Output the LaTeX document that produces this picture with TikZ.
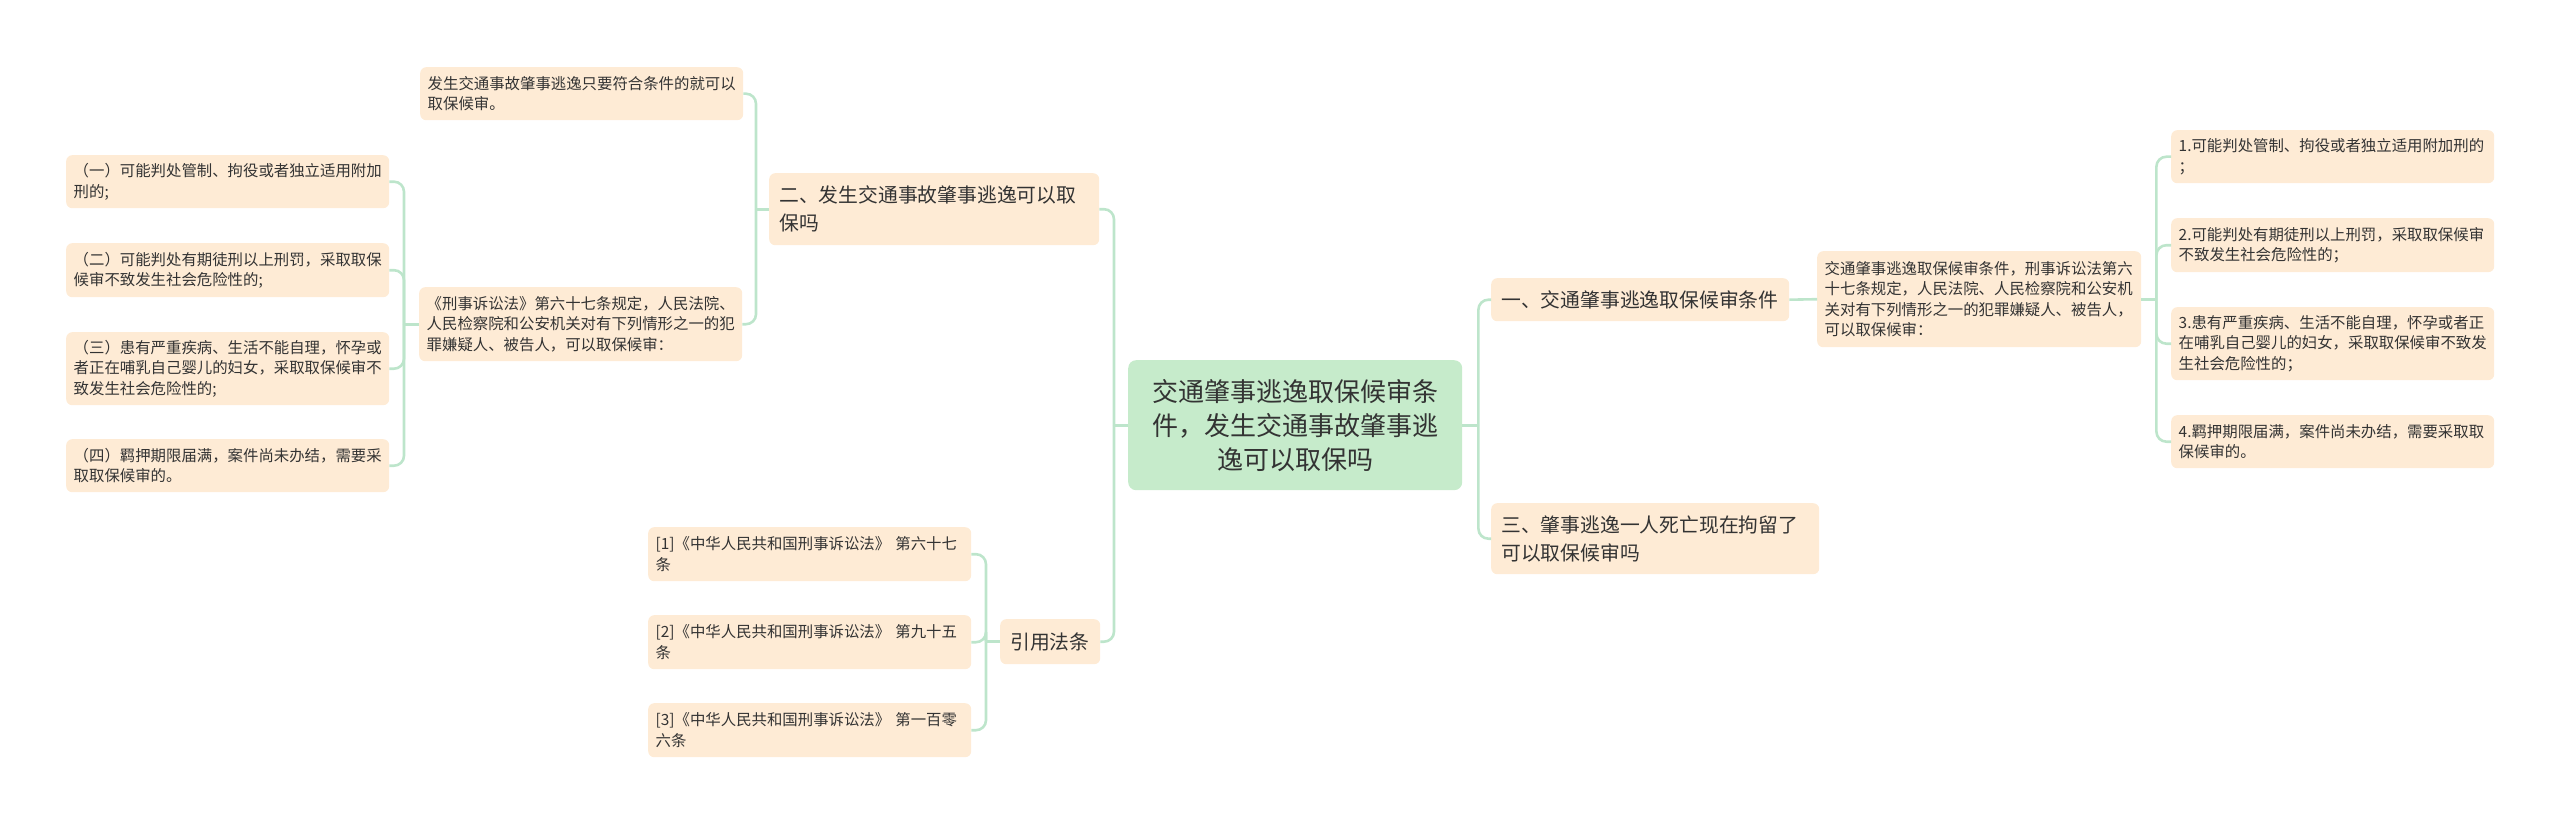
\documentclass[tikz,border=0pt]{standalone}
\usepackage{fontspec}
\setmainfont{Noto Sans CJK SC}
\usetikzlibrary{calc}
\definecolor{boxfill}{HTML}{FEEBD5}
\definecolor{rootfill}{HTML}{C6EBCB}
\definecolor{linecol}{HTML}{BDE5CB}
\definecolor{txt}{HTML}{333333}
\tikzset{
  base/.style={anchor=north west, rounded corners=6pt, fill=boxfill, text=txt, align=left, inner ysep=0pt},
  small/.style={base, font=\fontsize{15.4pt}{20.5pt}\selectfont, inner xsep=7.5pt, text width=308pt},
  lvl/.style={base, font=\fontsize{19.8pt}{28pt}\selectfont, inner xsep=10pt},
  rootbox/.style={anchor=north west, rounded corners=8pt, fill=rootfill, text=txt, align=center, inner sep=0pt, font=\fontsize{26pt}{34pt}\selectfont},
  conn/.style={draw=linecol, line width=2.6pt, rounded corners=10pt}
}
\begin{document}
\begin{tikzpicture}[x=1pt, y=-1pt]
\useasboundingbox (0,0) rectangle (2560,824);
% root
\node[rootbox, minimum width=334pt, minimum height=130pt, text width=310pt] (C) at (1128,360) {交通肇事逃逸取保候审条\\件，发生交通事故肇事逃\\逸可以取保吗};
% left side
\node[lvl, text width=310pt, minimum height=72pt] (N2) at (769,173) {二、发生交通事故肇事逃逸可以取\\保吗};
\node[small, minimum height=53pt] (A) at (420,67) {发生交通事故肇事逃逸只要符合条件的就可以\\取保候审。};
\node[small, minimum height=74pt] (B) at (419,287) {《刑事诉讼法》第六十七条规定，人民法院、\\人民检察院和公安机关对有下列情形之一的犯\\罪嫌疑人、被告人，可以取保候审：};
\node[small, minimum height=53pt] (L1) at (66,155) {（一）可能判处管制、拘役或者独立适用附加\\刑的;};
\node[small, minimum height=54pt] (L2) at (66,243) {（二）可能判处有期徒刑以上刑罚，采取取保\\候审不致发生社会危险性的;};
\node[small, minimum height=73pt] (L3) at (66,332) {（三）患有严重疾病、生活不能自理，怀孕或\\者正在哺乳自己婴儿的妇女，采取取保候审不\\致发生社会危险性的;};
\node[small, minimum height=53pt] (L4) at (66,439) {（四）羁押期限届满，案件尚未办结，需要采\\取取保候审的。};
\node[lvl, text width=80pt, minimum height=45pt] (R) at (1000,619) {引用法条};
\node[small, minimum height=54pt] (F1) at (648,527) {[1]《中华人民共和国刑事诉讼法》 第六十七\\条};
\node[small, minimum height=54pt] (F2) at (648,615) {[2]《中华人民共和国刑事诉讼法》 第九十五\\条};
\node[small, minimum height=54pt] (F3) at (648,703) {[3]《中华人民共和国刑事诉讼法》 第一百零\\六条};
% right side
\node[lvl, text width=278pt, minimum height=43pt] (N1) at (1491,278) {一、交通肇事逃逸取保候审条件};
\node[lvl, text width=308pt, minimum height=71pt] (N3) at (1491,503) {三、肇事逃逸一人死亡现在拘留了\\可以取保候审吗};
\node[small, minimum height=96pt, text width=309pt] (K) at (1817,251) {交通肇事逃逸取保候审条件，刑事诉讼法第六\\十七条规定，人民法院、人民检察院和公安机\\关对有下列情形之一的犯罪嫌疑人、被告人，\\可以取保候审：};
\node[small, minimum height=53pt] (P1) at (2171,130) {1.可能判处管制、拘役或者独立适用附加刑的\\；};
\node[small, minimum height=54pt] (P2) at (2171,218) {2.可能判处有期徒刑以上刑罚，采取取保候审\\不致发生社会危险性的；};
\node[small, minimum height=73pt] (P3) at (2171,307) {3.患有严重疾病、生活不能自理，怀孕或者正\\在哺乳自己婴儿的妇女，采取取保候审不致发\\生社会危险性的；};
\node[small, minimum height=53pt] (P4) at (2171,415) {4.羁押期限届满，案件尚未办结，需要采取取\\保候审的。};
% junctions
\coordinate (jC) at ($(C.west)+(-14,0)$);
\coordinate (jD) at ($(C.east)+(16,0)$);
\coordinate (j2) at ($(N2.west)+(-13,0)$);
\coordinate (jB) at ($(B.west)+(-15,0)$);
\coordinate (jR) at ($(R.west)+(-14,0)$);
\coordinate (jK) at ($(K.east)+(15,0)$);
% connectors
\draw[conn] (C.west) -- (jC);
\draw[conn] (jC) |- (N2.east);
\draw[conn] (jC) |- (R.east);
\draw[conn] (C.east) -- (jD);
\draw[conn] (jD) |- (N1.west);
\draw[conn] (jD) |- (N3.west);
\draw[conn] (N2.west) -- (j2);
\draw[conn] (j2) |- (A.east);
\draw[conn] (j2) |- (B.east);
\draw[conn] (B.west) -- (jB);
\draw[conn] (jB) |- (L1.east);
\draw[conn] (jB) |- (L2.east);
\draw[conn] (jB) |- (L3.east);
\draw[conn] (jB) |- (L4.east);
\draw[conn] (R.west) -- (jR);
\draw[conn] (jR) |- (F1.east);
\draw[conn] (jR) |- (F2.east);
\draw[conn] (jR) |- (F3.east);
\draw[conn] (N1.east) -- (K.west);
\draw[conn] (K.east) -- (jK);
\draw[conn] (jK) |- (P1.west);
\draw[conn] (jK) |- (P2.west);
\draw[conn] (jK) |- (P3.west);
\draw[conn] (jK) |- (P4.west);
\end{tikzpicture}
\end{document}
